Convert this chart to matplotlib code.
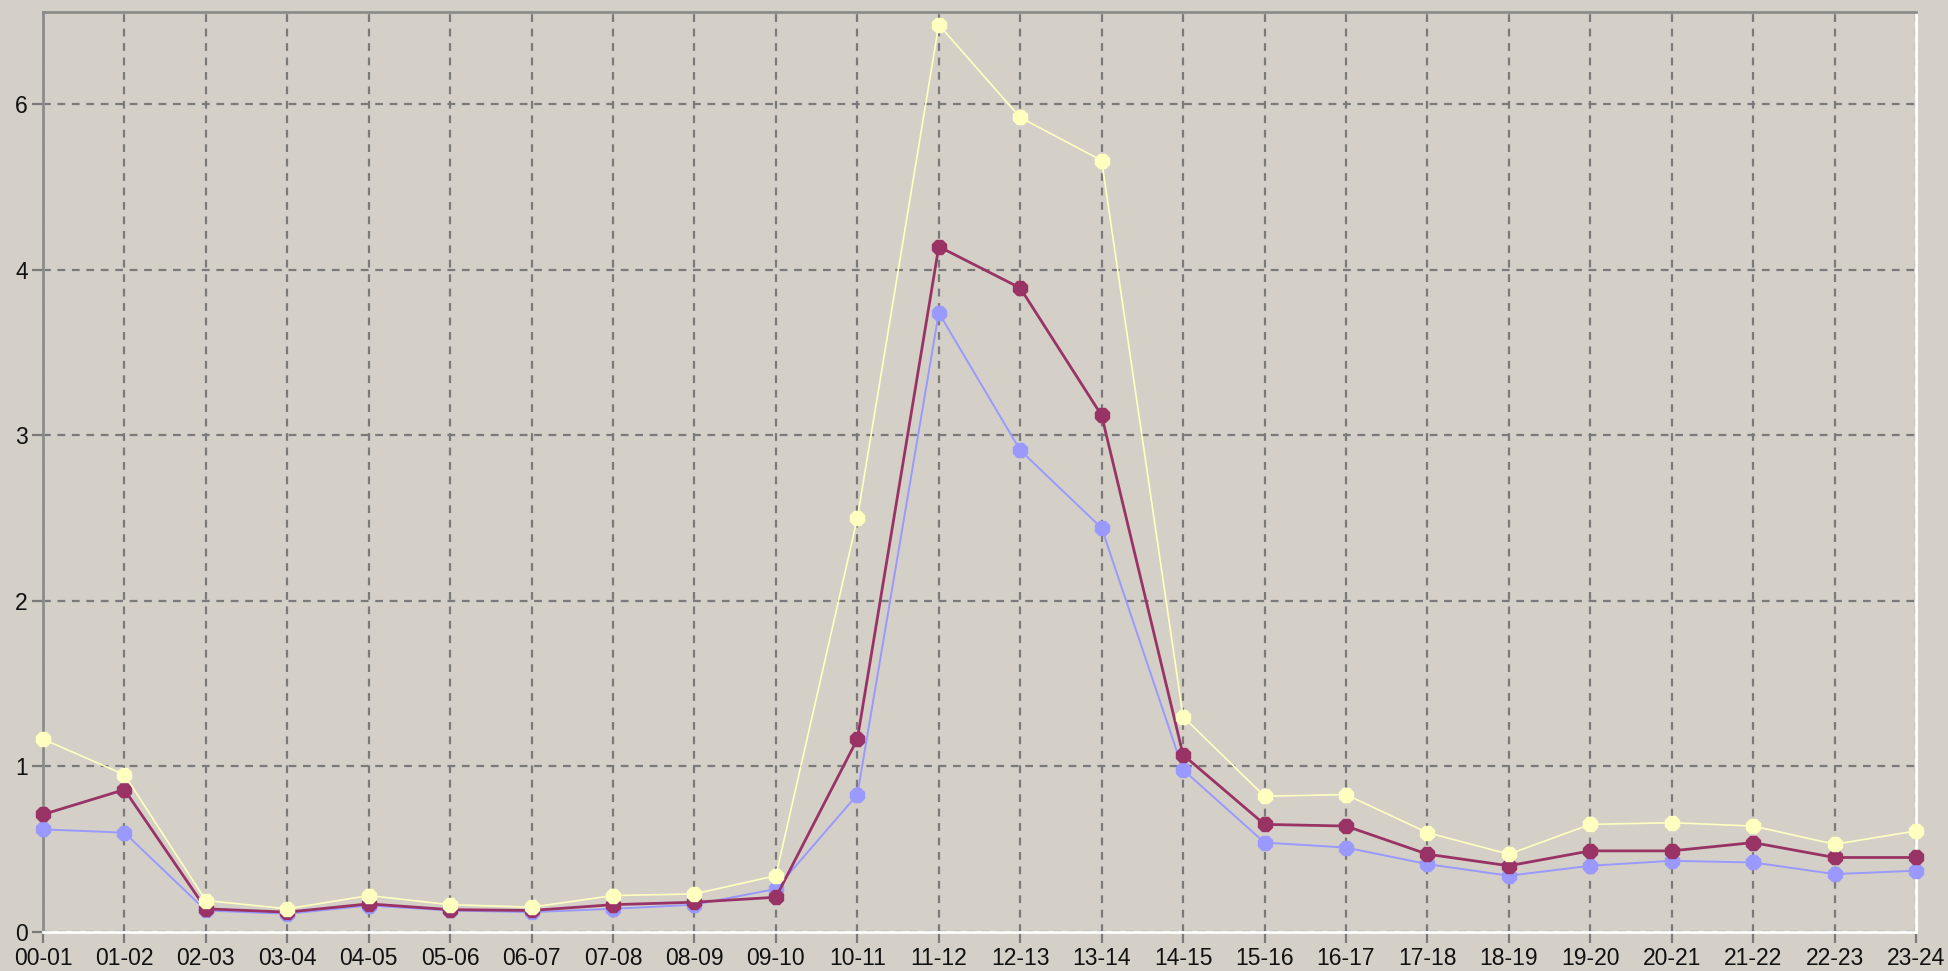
import matplotlib
matplotlib.use("Agg")
import matplotlib.pyplot as plt

hours = ["00-01", "01-02", "02-03", "03-04", "04-05", "05-06", "06-07", "07-08",
         "08-09", "09-10", "10-11", "11-12", "12-13", "13-14", "14-15", "15-16",
         "16-17", "17-18", "18-19", "19-20", "20-21", "21-22", "22-23", "23-24"]

yellow_vals = [1.165, 0.95, 0.19, 0.14, 0.22, 0.165, 0.15, 0.22, 0.23, 0.34, 2.50, 5.48,
               4.92, 4.66, 1.30, 0.82, 0.83, 0.60, 0.47, 0.65, 0.66, 0.64, 0.53, 0.61]
maroon_vals = [0.71, 0.86, 0.14, 0.12, 0.17, 0.135, 0.13, 0.165, 0.18, 0.21, 1.165, 4.14,
               3.89, 3.12, 1.07, 0.65, 0.64, 0.47, 0.40, 0.49, 0.49, 0.54, 0.45, 0.45]
blue_vals = [0.62, 0.60, 0.13, 0.11, 0.16, 0.13, 0.12, 0.14, 0.165, 0.26, 0.83, 3.74,
             2.91, 2.44, 0.98, 0.54, 0.51, 0.41, 0.34, 0.40, 0.43, 0.42, 0.35, 0.37]

y_ticks = [0, 1, 2, 3, 4, 5]
y_labels = ["0", "1", "2", "3", "4", "6"]

bg = "#d4d0c8"
plt.rcParams["font.family"] = ["Liberation Sans", "DejaVu Sans"]

fig = plt.figure(figsize=(19.48, 9.71), dpi=100, facecolor=bg)
ax = fig.add_axes([43 / 1948, 39 / 971, 1873 / 1948, 920 / 971])
ax.set_facecolor(bg)

x = list(range(len(hours)))
# blue under maroon under yellow
ax.plot(x, blue_vals, color="#9999ff", lw=1.4, marker="8", ms=11, mec="#9999ff", zorder=3, clip_on=False)
ax.plot(x, maroon_vals, color="#993366", lw=2.0, marker="8", ms=11, mec="#993366", zorder=4, clip_on=False)
ax.plot(x, yellow_vals, color="#ffffc0", lw=1.2, marker="8", ms=11, mec="#ffffc0", zorder=5, clip_on=False)

ax.set_xlim(0, len(hours) - 1)
ax.set_ylim(0, 5.557)
ax.set_xticks(x)
ax.set_xticklabels(hours, fontsize=16.5, color="#111111")
ax.set_yticks(y_ticks)
ax.set_yticklabels(y_labels, fontsize=16.5, color="#111111")

ax.grid(True, color="#7a7a7a", linestyle=(0, (3.5, 3)), linewidth=1.6, zorder=1)
ax.tick_params(axis="both", length=8, width=1.6, color="#7a7a7a", pad=3)

for side in ["top", "left"]:
    ax.spines[side].set_color("#8c8c8c")
    ax.spines[side].set_linewidth(2)
for side in ["bottom", "right"]:
    ax.spines[side].set_color("#ffffff")
    ax.spines[side].set_linewidth(2)

fig.savefig("out.png", dpi=100, facecolor=bg)
